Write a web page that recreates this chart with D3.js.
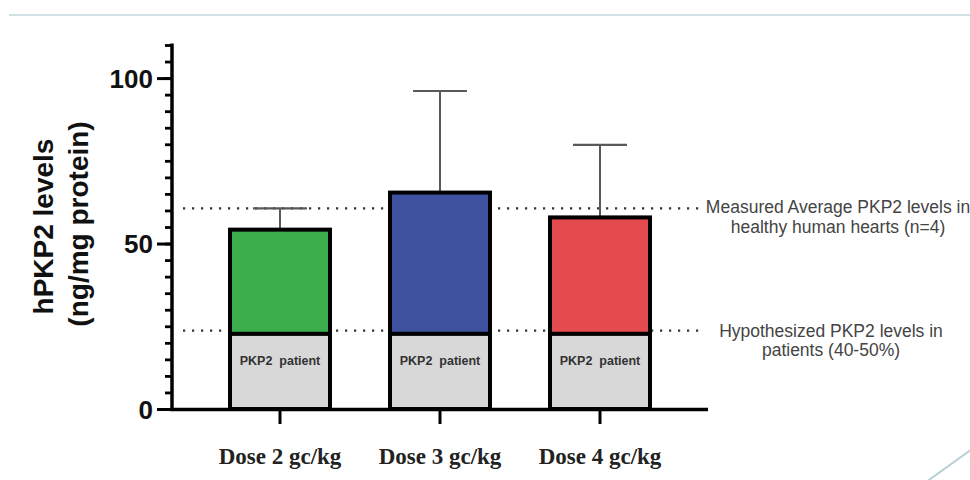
<!DOCTYPE html>
<html><head><meta charset="utf-8">
<script src="https://cdn.jsdelivr.net/npm/d3@7"></script>
<style>
html,body{margin:0;padding:0;background:#fff;}
svg{display:block;}
</style></head>
<body>
<svg id="chart" width="970" height="480"></svg>
<script>
// ---- data ----
const categories = ["Dose 2 gc/kg", "Dose 3 gc/kg", "Dose 4 gc/kg"];
const meanValues = [54.2, 65.4, 57.9];
const errorTops = [60.6, 96.1, 79.8];
const patientLevel = [22.7, 22.7, 22.7];
const barColors = ["#3cae4c", "#3e52a0", "#e34b4f"];
const yMajorTicks = [0, 50, 100];
const yMinorTicks = d3.range(0, 111, 5);
const refLines = [
  {value: 60.6, lines: ["Measured Average PKP2 levels in", "healthy human hearts (n=4)"]},
  {value: 23.7, lines: ["Hypothesized PKP2 levels in", "patients (40-50%)"]}
];
const patientLabel = "PKP2  patient";
const yTitle = ["hPKP2 levels", "(ng/mg protein)"];

// ---- layout ----
const svg = d3.select("#chart");
const y = d3.scaleLinear().domain([0, 110]).range([409, 45]);
const x = d3.scaleBand().domain(categories).range([200, 680])
  .paddingInner(0.375).paddingOuter(0.1875);
const axisX0 = 172, axisX1 = 708;

// decorative slide lines
svg.append("line").attr("x1", 9).attr("x2", 970).attr("y1", 15).attr("y2", 15)
  .attr("stroke", "#c3d5dc").attr("stroke-width", 1.5);
svg.append("line").attr("x1", 915).attr("y1", 490).attr("x2", 972).attr("y2", 449)
  .attr("stroke", "#b9cfd6").attr("stroke-width", 2);

// reference dotted lines (behind bars)
svg.selectAll(".ref").data(refLines).join("line")
  .attr("x1", 183).attr("x2", 700)
  .attr("y1", d => y(d.value)).attr("y2", d => y(d.value))
  .attr("stroke", "#333").attr("stroke-width", 2.2)
  .attr("stroke-dasharray", "2.2 6.8");

// ref annotations
const annX = [838, 831];
const annY = [y(refLines[0].value) + 5, y(refLines[1].value) + 6];
refLines.forEach((r, i) => {
  const t = svg.append("text").attr("text-anchor", "middle")
    .attr("font-family", "Liberation Sans, Arial, sans-serif")
    .attr("font-size", 17.5).attr("fill", "#444");
  r.lines.forEach((l, j) => {
    t.append("tspan").attr("x", annX[i]).attr("y", annY[i] + j * 19.5).text(l);
  });
});

// error bars
const err = svg.append("g");
categories.forEach((c, i) => {
  const cx = x(c) + x.bandwidth() / 2;
  err.append("line").attr("x1", cx).attr("x2", cx)
    .attr("y1", y(meanValues[i])).attr("y2", y(errorTops[i]))
    .attr("stroke", "#5a5a5a").attr("stroke-width", 2);
  err.append("line").attr("x1", cx - 27).attr("x2", cx + 27)
    .attr("y1", y(errorTops[i])).attr("y2", y(errorTops[i]))
    .attr("stroke", "#5a5a5a").attr("stroke-width", 2.2);
});

// bars
const bars = svg.append("g");
bars.selectAll(".top").data(categories).join("rect")
  .attr("x", d => x(d)).attr("width", x.bandwidth())
  .attr("y", (d, i) => y(meanValues[i]))
  .attr("height", (d, i) => y(patientLevel[i]) - y(meanValues[i]))
  .attr("fill", (d, i) => barColors[i])
  .attr("stroke", "#000").attr("stroke-width", 4);
bars.selectAll(".bot").data(categories).join("rect")
  .attr("x", d => x(d)).attr("width", x.bandwidth())
  .attr("y", (d, i) => y(patientLevel[i]))
  .attr("height", (d, i) => y(0) - y(patientLevel[i]))
  .attr("fill", "#d8d8d8")
  .attr("stroke", "#000").attr("stroke-width", 4);
bars.selectAll(".plab").data(categories).join("text")
  .attr("x", d => x(d) + x.bandwidth() / 2)
  .attr("y", 365)
  .attr("text-anchor", "middle")
  .attr("font-family", "Liberation Sans, Arial, sans-serif")
  .attr("font-weight", "bold").attr("font-size", 12.5)
  .attr("fill", "#333")
  .style("white-space", "pre")
  .text(patientLabel);

// y axis
const gyMinor = svg.append("g").attr("transform", `translate(${axisX0},0)`)
  .call(d3.axisLeft(y).tickValues(yMinorTicks).tickSize(7).tickFormat(""));
gyMinor.select(".domain").remove();
gyMinor.selectAll(".tick line").attr("stroke", "#000").attr("stroke-width", 2.8);
const gyMajor = svg.append("g").attr("transform", `translate(${axisX0},0)`)
  .call(d3.axisLeft(y).tickValues(yMajorTicks).tickSize(15).tickPadding(4));
gyMajor.select(".domain").remove();
gyMajor.selectAll(".tick line").attr("stroke", "#000").attr("stroke-width", 3);
gyMajor.selectAll(".tick text")
  .attr("font-family", "Liberation Sans, Arial, sans-serif")
  .attr("font-weight", "bold").attr("font-size", 26).attr("fill", "#111")
  .attr("dy", "0.36em");
svg.append("line").attr("x1", axisX0).attr("x2", axisX0)
  .attr("y1", y(110) - 1.5).attr("y2", y(0) + 2)
  .attr("stroke", "#000").attr("stroke-width", 3.5);

// x axis
const gx = svg.append("g").attr("transform", `translate(0,${y(0)})`)
  .call(d3.axisBottom(x).tickSize(15).tickPadding(24));
gx.select(".domain").remove();
gx.selectAll(".tick line").attr("stroke", "#000").attr("stroke-width", 3);
gx.selectAll(".tick text")
  .attr("font-family", "Liberation Serif, Times New Roman, serif")
  .attr("font-weight", "bold").attr("font-size", 23).attr("fill", "#222");
svg.append("line").attr("x1", axisX0 - 1.75).attr("x2", axisX1)
  .attr("y1", y(0) + 0.5).attr("y2", y(0) + 0.5)
  .attr("stroke", "#000").attr("stroke-width", 3.5);

// y title
const yt = svg.append("text")
  .attr("transform", "translate(0,226) rotate(-90)")
  .attr("text-anchor", "middle")
  .attr("font-family", "Liberation Sans, Arial, sans-serif")
  .attr("font-weight", "bold").attr("font-size", 28).attr("fill", "#111");
yt.append("tspan").attr("x", -0.5).attr("y", 53).text(yTitle[0]);
yt.append("tspan").attr("x", 2).attr("y", 88).text(yTitle[1]);
</script>
</body></html>
